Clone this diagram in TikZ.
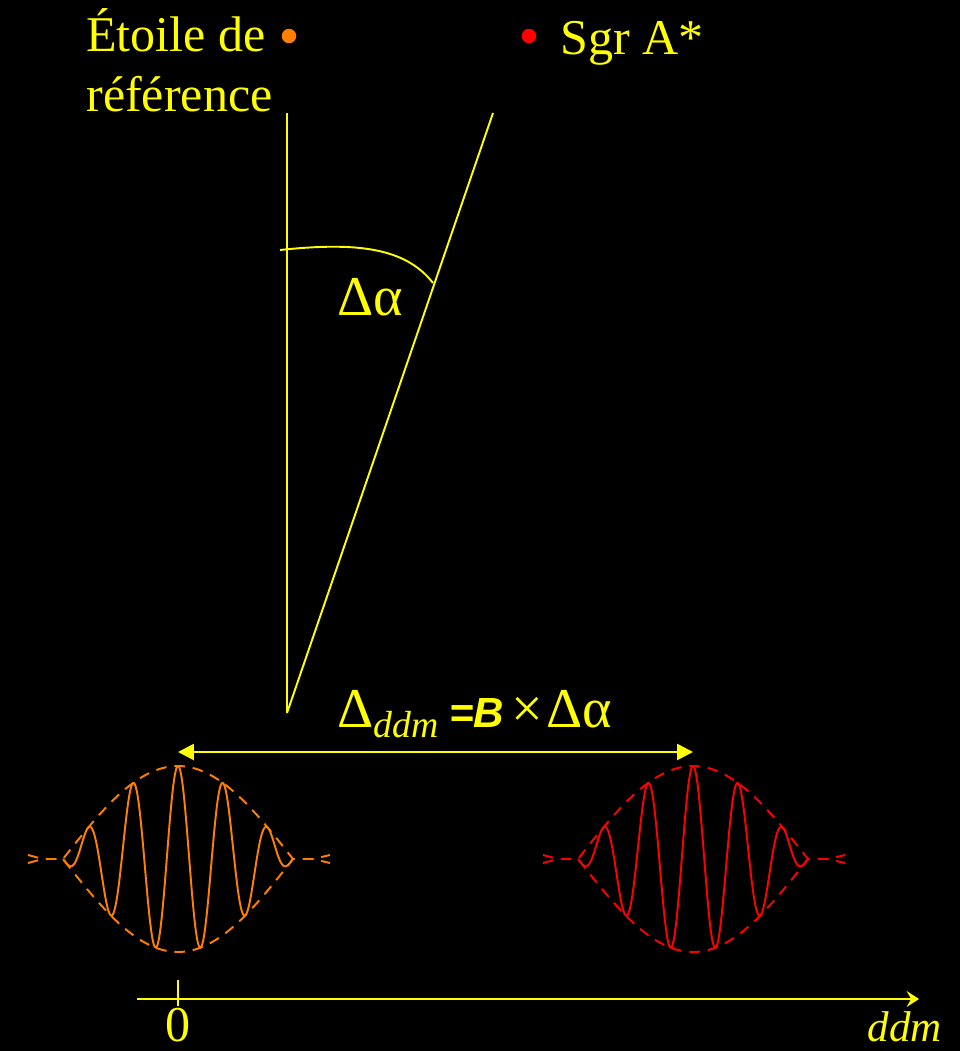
\documentclass[tikz,border=0pt]{standalone}
\usepackage{fontspec}
\setmainfont{Liberation Serif}
\setsansfont{Liberation Sans}
\usetikzlibrary{arrows.meta}
\definecolor{txt}{HTML}{FFFF00}
\definecolor{refstar}{HTML}{FF8000}
\definecolor{sgrstar}{HTML}{FF0000}

\begin{document}
\begin{tikzpicture}[
  x=0.02cm, y=-0.02cm,
  lbl/.style={anchor=base west, inner sep=0pt, text=txt, font=\fontsize{28.5}{34}\selectfont},
  big/.style={lbl, font=\fontsize{32}{38}\selectfont},
  ray/.style={draw=txt, line width=1.1pt},
  arr/.style={draw=txt, line width=1.5pt},
  stardot/.style={circle, inner sep=0pt, minimum size=0.29cm},
  wave/.style={line width=1.1pt, line join=round},
  env/.style={line width=1.1pt, dash pattern=on 6pt off 4.5pt}
]
  \fill[black] (0,0) rectangle (960,1051);
  \useasboundingbox (0,0) rectangle (960,1051);
  \node[lbl] (etoile) at (86,52) {Étoile de};
  \node[lbl] (reference) at (86,112) {référence};
  \node[stardot, fill=refstar] (refdot) at (289,36) {};
  \node[stardot, fill=sgrstar] (sgrdot) at (529,36) {};
  \node[lbl] (sgr) at (560,55) {Sgr A*};
  \coordinate (apex) at (287,713);
  \coordinate (reftop) at (287,113);
  \coordinate (sgrtop) at (493,113);
  \draw[ray] (apex) -- (reftop);
  \draw[ray] (apex) -- (sgrtop);
  \coordinate (arcL) at (280,250);
  \coordinate (arcR) at (433,283);
  \draw[ray] (arcL) .. controls (355,242) and (405,247) .. (arcR);
  \node[big] (dalpha) at (337,315) {Δα};
  \node[big] (formula) at (337,727)
    {Δ\raisebox{-6.2pt}{\fontsize{21.5}{26}\selectfont\itshape ddm}\hspace{6pt}{\fontsize{24}{29}\selectfont\sffamily\bfseries\itshape =B}\hspace{4pt}×\hspace{2pt}Δα};
  \foreach \cx/\col/\nm in {178/refstar/refpk, 693/sgrstar/sgrpk} {
    \coordinate (\nm) at (\cx,752);
    \draw[\col, wave] plot[domain=-115:115, samples=300, smooth]
      ({\cx+\x}, {859-93*cos(90*\x/115)*cos(8*\x)});
    \draw[\col, env] (\cx-150,855) -- (\cx-135,859) -- (\cx-115,859)
      -- plot[domain=-115:115, samples=60, smooth] ({\cx+\x}, {859-93*cos(90*\x/115)})
      -- (\cx+135,859) -- (\cx+152,855);
    \draw[\col, env] (\cx-150,863) -- (\cx-135,859) -- (\cx-115,859)
      -- plot[domain=-115:115, samples=60, smooth] ({\cx+\x}, {859+93*cos(90*\x/115)})
      -- (\cx+135,859) -- (\cx+152,863);
  }
  \draw[arr, fill=txt, {Triangle[length=9pt, width=9pt]}-{Triangle[length=9pt, width=9pt]}] (refpk) -- (sgrpk);
  \coordinate (axstart) at (137,999);
  \coordinate (axend) at (919,999);
  \draw[arr, -{Stealth[length=7pt, width=9pt, inset=2.5pt]}, fill=txt] (axstart) -- (axend);
  \node[anchor=base, inner sep=1pt, text=txt, font=\fontsize{28.5}{34}\selectfont] (zero) at (178,1041) {0};
  \coordinate (ticktop) at (178,980);
  \draw[ray] (ticktop) -- (zero.north);
  \node[anchor=base east, inner sep=0pt, text=txt, font=\fontsize{24.5}{29}\selectfont\itshape] (ddm) at (942,1041) {ddm};
\end{tikzpicture}
\end{document}
